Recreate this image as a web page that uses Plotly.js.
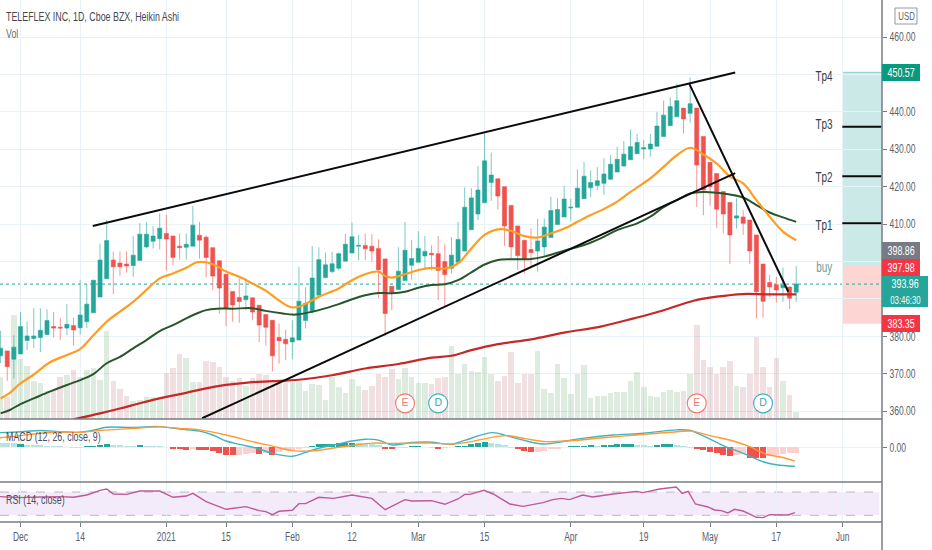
<!DOCTYPE html>
<html>
<head>
<meta charset="utf-8">
<script src="https://cdn.plot.ly/plotly-3.0.1.min.js"></script>
<style>html,body{margin:0;padding:0;background:#fff}#c{width:932px;height:550px}</style>
</head>
<body>
<div id="c"></div>
<script>
var firstBar = -3;
var candleOpen = [374.8,376.1,373.9,375.3,378.9,379.4,379.7,380.5,382.6,382.4,382.2,382.9,382.3,383.9,386.3,390.5,395.4,400.4,399.6,399.3,398.9,400.3,403.9,405.4,406.1,407.5,406.8,404.1,403.8,404.1,407,406.5,403.7,400.2,396.6,392,390.4,389.8,390.3,388.3,385.8,384.3,379.7,379.2,378.5,379,384.2,386.6,391,395.7,397.3,398.2,400.1,402.3,404.1,404.3,404.1,403.5,400.7,393.4,392.5,394.9,399,399.8,401.5,402.2,402.1,400,398.2,399.8,402.8,408.5,412.7,415.7,421.1,422.1,420,415,409.5,405.7,403.2,402.8,403.9,406.4,409.9,411.9,414.3,414.5,416.8,419.7,420.3,420.9,422,423.9,425.5,427.2,428.8,430.1,430.1,430.8,433.4,436.3,438.7,441,439.6,441,433.4,426.5,423.5,418.7,415.8,411.6,411.9,411.1,407.1,399.3,394.4,393.8,393,393.2,391.8];
var candleHigh = [381.5,376.1,380.3,386.5,384,387.6,387.5,387.2,386.5,384.9,388.6,384.9,395,393.9,395,404.8,411.1,402.6,402.7,402.7,406.8,410.3,410.5,409.4,412.9,412.5,406.8,407.5,407.5,414.8,410.6,407,403.7,400.2,396.6,392,395.5,395.5,390.3,388.3,385.8,384.3,383.4,381.8,384.3,398.6,393.1,404.1,403.8,402.4,402.6,402.4,407.4,410.4,407.1,407.5,407.3,405.9,400.7,393.4,403.8,410.6,405.8,408.1,406.8,404.3,406.8,404.6,406.5,410.6,419.8,419.6,425.5,434.7,429.1,422.1,420,415,409.5,405.7,408.8,411.4,411.5,417.3,416.9,420.2,416.8,424.6,426.6,424.3,425.3,427.6,428.4,430.7,432.2,435.3,434.1,432.5,434.1,440,443,443.9,447.6,441,449.2,441,433.4,426.5,423.5,418.7,415.8,416.9,413.7,411.1,407.1,399.3,396.4,395.9,398.4,393.2,398.8];
var candleLow = [372.8,368.1,368.7,375.3,376.3,376.9,375.8,380.3,379.7,379,380.3,377.6,380.5,382.2,386.3,390.5,395.4,391.3,396.2,397,395.9,400.3,403.5,403.5,403.3,397.5,399,400.5,400.5,404.1,400.8,395.7,392.3,386.1,382.7,383.9,383.6,387,384.3,378.5,377.5,370.6,372.7,373.6,373.9,379,382.1,386.1,391,395.5,396.9,397.6,400.1,402.3,400.4,400.4,400,390.2,380.1,387,392.5,394.9,395.1,399.8,398.2,397.7,389.7,387.9,396.8,399.8,402.8,408.5,411.1,415.7,416.2,413.9,404.2,400.8,397.7,396.8,398.8,397.3,401.3,406.4,409.9,411.9,410.9,414.2,416.8,417.2,419.1,417.8,421.8,423.9,425.5,427.2,428.8,427.4,428,430.8,433.4,436.3,438.7,434.2,437.1,414.6,412.4,414.9,409,407.5,399.3,408.8,407.1,399.3,384.8,385,390.4,389,389.2,387.3,389.2];
var candleClose = [376.8,371.9,377.1,382.6,380.1,380.1,381.6,384.2,382.2,382.2,383.2,381.7,385.7,388.6,395,400.4,405.6,398.6,398.6,398.8,401.7,407.3,407.3,406.8,408.9,406,401.1,403.7,404.6,409.7,405.7,401.1,396.1,392.9,387.6,388.4,389.3,390.8,386.5,383,382.4,374.8,378.8,378,379.6,389.4,388.8,395.6,400.5,399.1,399.4,402.1,404.6,406.6,404.3,403.4,402.8,397.8,386.1,391.8,397.4,403,400.8,403.5,402.7,401.8,397.6,396.5,401.7,405.9,414.5,417,419.1,426.9,423.1,417.5,409.5,403.9,401.6,400.6,402.4,405.5,409.2,413.6,413.9,416.7,414.5,419.6,422.8,421.1,421.6,423.4,426,427.3,428.7,430.7,431.8,430.4,431.4,436.2,439.1,441.4,443,438.1,442.2,425.8,419.1,420,414,412.7,407.1,412.2,410.2,402.8,391.9,389.4,393.2,392.4,393.7,390.2,393.96];
var volumeValues = [127,65,312,180,160,115,107,85,85,125,132,147,127,147,152,118,263,115,90,70,55,57,67,67,67,137,153,195,183,112,112,175,171,157,125,115,122,100,122,135,133,110,110,110,110,110,85,105,102,58,125,95,79,119,100,88,98,135,125,150,119,153,127,109,109,105,122,125,220,135,165,145,141,187,135,113,128,200,107,135,135,203,90,77,165,123,75,135,163,62,70,70,77,80,82,115,140,97,70,67,82,88,80,85,135,282,178,157,135,157,175,100,95,135,247,157,95,183,115,73,20];
var ma20Bars = [-3,-1.6,0,2,4.4,7,9,11,13,15,17,19,21,23,25,26.6,28,29.6,31,33,35,37,38.6,40.6,42,45,48,50,52,54,55,56,58,60,62,64,66,68,70,72,74,76,78,80,82,84,86,87.5,90,92,95,97,99,101,103,105,107,109,111,113,115,117];
var ma20Values = [363.4,364.9,367.4,369.8,373,375,376.6,380.3,383.9,386.6,389.2,392.4,395.5,396.8,398.3,399.8,399.8,398.8,397.3,395.9,394.1,392.2,390.1,387.9,387.9,390.6,392.8,395,396.6,397.3,396.1,395.7,396.6,397.7,398.3,398.1,399.5,403.5,407.1,408.6,408.2,406.8,406.4,407.5,408.8,410.6,412.4,413.6,416,418.6,422.2,425.3,428.4,430.4,428.6,426.2,422.7,420.9,416.4,412,408,405.7];
var ma50Bars = [-3,-1.6,0,2,4.4,7,9,11,13,15,17,19,21,23,25,26.6,28,29.6,32,35,37,39.6,41,42,45,48,50,52,54,56,58,60,62,64,66,68,70,72,74,77,79,82,85,87.5,90,93,95,97,99,101,103,105,107,109,111,113,115,117];
var ma50Values = [359.4,360.3,361.9,363.4,365.2,367,368.3,369.9,372.8,374.5,376.8,379,381.4,383,384.8,386.1,387,387.4,387.4,387.5,386.8,386.1,385.8,385.9,387,388.6,389.9,391,391.6,391.5,391.9,393,393.7,393.9,395,397.1,399.2,400.4,400.6,400.7,401.3,402.9,404.4,406.2,408.4,410.2,412,414.5,416.4,418.2,418.6,418.4,417.9,417.1,415.1,413.1,411.8,410.6];
var ma200Bars = [8,12,15,18,22,25,28,31,34.6,38,42,47,52,57,62,65,68,72,77,82,87.5,92.5,96.5,101.5,105,109,112.7,117];
var ma200Values = [357.8,359.4,360.7,362.1,363.8,364.9,366.1,367,367.7,368,368.4,369.6,371.4,372.6,374.3,374.8,376.3,377.9,379.2,381,382.6,384.8,386.7,389.5,390.6,391.3,391.2,391.2];
var macdBars = [-3.1,0,3,6,9,11,13,17,21,24,27,29,31,33,35.6,38,41,43,45,47.7,50,52,54,56,59,62,65,67,69.8,71.3,73.3,75.8,78.8,82.3,84.8,89.4,93.9,98.9,100.9,102.9,106,109,112,114,116.8];
var macdValues = [4.9,5.2,5.6,5.2,5,5.7,6.7,6.6,6.9,6.1,5.4,4.1,2.1,1,-0.3,-2,-3,-1.7,-0.3,1,2.1,2.7,2.4,0.8,1.6,1.7,1,2.3,4.3,4.9,3.9,2.4,1.1,2.1,3,4.1,4.7,5.8,5.7,3.9,0.6,-2,-4.8,-5.8,-6.3];
var signalBars = [-3.1,0,3,6,9,12,17,21,24,27,31,35,38,41,44,47,50,53,56,59,62,65,68,70.3,73.3,76.3,79.3,82.8,87.9,92.9,97.9,101.2,104,107.5,110,112.5,115,116.8];
var signalValues = [3.2,3.9,4.7,5.1,5,5.6,6.3,6.8,6.3,5.8,4.1,1.9,0.4,-1.1,-1.2,-0.3,0.6,1.4,1.3,1.4,1.4,1.1,1.9,3,3.9,2.8,1.9,2.2,3.2,4.1,5,5.4,3.9,2.1,0.2,-2.3,-3.4,-4.6];
var histValues = [1.4,1.4,1.3,1.2,0.9,0.9,0.7,0.5,0.3,0.3,0.2,-0.3,-0.2,0.3,0.5,0.8,1.2,0.9,0.7,0.5,0.5,0.7,0.6,0.5,0.3,0.1,-0.5,-0.5,-0.9,-0.5,-0.8,-0.8,-1.2,-1.8,-2.4,-2.7,-2.5,-2.2,-2,-2.3,-2,-2.7,-1.5,-1,-0.8,-0.6,-0.3,0.3,1,1.2,1.2,1.3,1.4,1.5,1.3,1.2,1,0.7,-0.4,-0.4,-0.2,-0.2,0.3,0.3,0.2,-0.3,-0.4,-0.3,0.1,0.4,0.5,1,1.3,1.8,1.6,1.2,0.7,-0.1,-0.7,-1.2,-1.7,-1.4,-1.2,-0.7,-0.4,0.1,0.3,0.4,0.6,0.7,0.5,0.8,0.9,1.1,1.1,1.1,0.9,0.7,0.6,0.8,1,1,0.7,0.6,-0.1,-0.5,-1,-1.7,-2,-2.5,-2.8,-2.5,-2.2,-3.5,-3.6,-3.6,-2.8,-2.5,-2.3,-2,-1.8];
var histStrong = [0,0,0,1,0,0,0,0,0,0,0,0,0,1,1,1,1,0,0,0,0,1,0,0,0,0,1,1,1,0,1,1,1,1,1,1,0,0,0,1,0,1,0,0,0,0,0,1,1,1,1,1,1,1,0,0,0,0,1,1,0,0,1,1,0,0,1,0,0,1,1,1,1,1,0,0,0,0,1,1,1,0,0,0,0,1,1,1,1,1,0,1,1,1,1,1,0,0,0,1,1,1,0,0,0,1,1,1,1,1,1,0,0,1,1,1,0,0,0,0,0];
var rsiBars = [-3.1,0,3,6,8,10,12,13,14,16,18,21,23,25,26,28,31,34,36,37,38,39,41,42,43,45,47.2,50,53,55,58,59,62,64,66,67,67.8,69.9,71.3,73.8,75.8,78.8,80.3,81.6,82.8,84.8,86.3,89.4,92.9,93.9,96.4,98.9,99.8,100.7,101.8,103.7,104.7,105.7,106.7,107.7,109,111,112,113,115.8,116.8];
var rsiValues = [62,60.3,61.4,62,60.9,64.9,72.9,75.1,66.6,66,71.7,71.7,60.9,63.1,67.7,53.4,40.3,44.9,38,36.3,31.2,36.9,38.6,50,50,60.9,59.1,64.9,59.1,39.7,56.9,54.6,55.1,48.9,58,66,66,72.9,66.6,49.4,45.4,51.7,56.9,59.1,56.9,64.9,61.4,66.6,71.1,68.9,75.1,78.6,67.7,71.1,49.4,44.3,39.1,38,34,40.3,37.4,26.6,26,31.2,30.6,34.6];
var upperTrendBars = [10.9,107.8], upperTrendPrices = [409.5,450.5];
var lowerTrendBars = [27.4,107.8], lowerTrendPrices = [358.1,423.6];
var downTrendBars = [100.9,115.8], downTrendPrices = [447.4,391.9];
var tpLabels = ['Tp1','Tp2','Tp3','Tp4'];
var tpPrices = [410.2,422.8,436,450.57];
var entryPrice = 398.86, stopPrice = 383.35, lastPrice = 393.96;
var eventLabels = ['E','D','E','D'];
var eventBars = [58,63,102,112];
var tickBars = [0,9,22,31,41,50,60,70,83,94,104,114,124];
var tickLabels = ['Dec','14','2021','15','Feb','12','Mar','15','Apr','19','May','17','Jun'];
var priceTicks = [360,370,380,390,400,410,420,430,440,450,460];
var priceTickLabels = ['360.00','370.00','380.00','','','410.00','420.00','430.00','440.00','','460.00'];

var W = 932, H = 550, AX = 882;
var FONT = '"Liberation Sans",Arial,sans-serif';
var bars = candleOpen.map(function(_, i){ return firstBar + i; });
var UP = '#26a69a', DOWN = '#ef5350', GRID = '#e9f2f6', EDGE = '#787b86', TXT = '#555963';
var XMIN = -3.09, XMAX = 129.94, TPX0 = 123.95;
function fy(px){ return 1 - px / H; }
function fx(px){ return px / W; }

var traces = [
  {type:'bar', x:bars, y:volumeValues, xaxis:'x', yaxis:'y', width:0.84,
   marker:{color:candleClose.map(function(c,i){ return c >= candleOpen[i] ? 'rgba(70,150,85,0.18)' : 'rgba(170,70,85,0.17)'; }), line:{width:0}}, hoverinfo:'skip'},
  {type:'candlestick', x:bars, open:candleOpen, high:candleHigh, low:candleLow, close:candleClose, xaxis:'x', yaxis:'y2', whiskerwidth:0,
   increasing:{line:{color:'rgba(38,166,154,0.6)',width:1}, fillcolor:UP},
   decreasing:{line:{color:'rgba(239,83,80,0.6)',width:1}, fillcolor:DOWN}, hoverinfo:'skip'},
  {type:'scatter', mode:'lines', x:ma200Bars, y:ma200Values, xaxis:'x', yaxis:'y2', line:{color:'#c62828',width:2.2,shape:'spline'}, hoverinfo:'skip'},
  {type:'scatter', mode:'lines', x:ma50Bars, y:ma50Values, xaxis:'x', yaxis:'y2', line:{color:'#27562d',width:2,shape:'spline'}, hoverinfo:'skip'},
  {type:'scatter', mode:'lines', x:ma20Bars, y:ma20Values, xaxis:'x', yaxis:'y2', line:{color:'#ff9d23',width:2.2,shape:'spline'}, hoverinfo:'skip'},
  {type:'scatter', mode:'lines', x:upperTrendBars, y:upperTrendPrices, xaxis:'x', yaxis:'y2', line:{color:'#0b0b0b',width:2}, hoverinfo:'skip'},
  {type:'scatter', mode:'lines', x:lowerTrendBars, y:lowerTrendPrices, xaxis:'x', yaxis:'y2', line:{color:'#0b0b0b',width:2}, hoverinfo:'skip'},
  {type:'scatter', mode:'lines', x:downTrendBars, y:downTrendPrices, xaxis:'x', yaxis:'y2', line:{color:'#0b0b0b',width:2}, hoverinfo:'skip'},
  {type:'scatter', mode:'markers+text', x:eventBars, y:eventBars.map(function(){ return 362.1; }), text:eventLabels, textposition:'middle center', xaxis:'x', yaxis:'y2',
   textfont:{family:FONT,size:10.5,color:['#ef7a76','#3aa9b2','#ef7a76','#3aa9b2']},
   marker:{size:19,color:'#ffffff',line:{width:1.2,color:['#ef7a76','#45b3bb','#ef7a76','#45b3bb']}}, hoverinfo:'skip'},
  {type:'bar', x:bars, y:histValues, xaxis:'x', yaxis:'y3', width:0.92,
   marker:{color:histValues.map(function(v,i){ return v >= 0 ? (histStrong[i] ? '#26a69a' : '#b8e2de') : (histStrong[i] ? '#ef5350' : '#fdd0d0'); }), line:{width:0}}, hoverinfo:'skip'},
  {type:'scatter', mode:'lines', x:macdBars, y:macdValues, xaxis:'x', yaxis:'y3', line:{color:'#3fb4bd',width:1.4,shape:'spline'}, hoverinfo:'skip'},
  {type:'scatter', mode:'lines', x:signalBars, y:signalValues, xaxis:'x', yaxis:'y3', line:{color:'#ff9a35',width:1.4,shape:'spline'}, hoverinfo:'skip'},
  {type:'scatter', mode:'lines', x:rsiBars, y:rsiValues, xaxis:'x', yaxis:'y4', line:{color:'#bd5a97',width:1.4}, hoverinfo:'skip'}
];
[0,1,2].forEach(function(k){
  traces.push({type:'scatter', mode:'lines', x:[TPX0,XMAX-0.1], y:[tpPrices[k],tpPrices[k]], xaxis:'x', yaxis:'y2', line:{color:'#0b0b0b',width:2}, hoverinfo:'skip'});
});

var shapes = [
  {type:'rect', xref:'x', yref:'y2', x0:TPX0, x1:XMAX, y0:entryPrice, y1:tpPrices[3], fillcolor:'rgba(38,166,154,0.24)', line:{width:0}, layer:'below'},
  {type:'line', xref:'x', yref:'y2', x0:TPX0, x1:XMAX, y0:tpPrices[3], y1:tpPrices[3], line:{color:'rgba(38,166,154,0.45)',width:1}, layer:'below'},
  {type:'rect', xref:'x', yref:'y2', x0:TPX0, x1:XMAX, y0:stopPrice, y1:entryPrice, fillcolor:'rgba(244,67,54,0.22)', line:{width:0}, layer:'below'},
  {type:'line', xref:'x', yref:'y2', x0:XMIN, x1:XMAX, y0:lastPrice, y1:lastPrice, line:{color:'#26a69a',width:1,dash:'dot'}, layer:'below'},
  {type:'rect', xref:'x', yref:'y4', x0:XMIN, x1:XMAX-0.4, y0:30, y1:70, fillcolor:'rgba(149,60,210,0.10)', line:{width:0}, layer:'below'},
  {type:'line', xref:'x', yref:'y4', x0:XMIN, x1:XMAX, y0:70, y1:70, line:{color:'#b9b6bd',width:1,dash:'dash'}, layer:'below'},
  {type:'line', xref:'x', yref:'y4', x0:XMIN, x1:XMAX, y0:30, y1:30, line:{color:'#b9b6bd',width:1,dash:'dash'}, layer:'below'}
];
[419,482,522].forEach(function(py){
  shapes.push({type:'line', xref:'paper', yref:'paper', x0:0, x1:fx(AX), y0:fy(py), y1:fy(py), line:{color:EDGE,width:1.5}});
});
shapes.push({type:'line', xref:'paper', yref:'paper', x0:fx(AX), x1:fx(AX), y0:0, y1:1, line:{color:EDGE,width:1.5}});
shapes.push({type:'rect', xref:'paper', yref:'paper', x0:fx(895), x1:fx(917), y0:fy(24), y1:fy(8), line:{color:'#9598a1',width:1}, fillcolor:'#ffffff'});

function note(text, px, py, color, size, anchor){
  return {text:text, xref:'paper', yref:'paper', x:fx(px), y:fy(py), showarrow:false, xanchor:anchor||'left', yanchor:'middle',
    font:{family:FONT,size:size||12,color:color||TXT}, borderpad:0, borderwidth:0};
}
var annotations = [
  note('TELEFLEX INC, 1D, Cboe BZX, Heikin Ashi', 6, 17, '#44474f', 12.5),
  note('Vol', 6, 34, '#6a6d78', 12.5),
  note('MACD (12, 26, close, 9)', 6, 437, '#4a4e59', 12.5),
  note('RSI (14, close)', 6, 500, '#4a4e59', 12.5),
  note('USD', 906, 16, '#5d606b', 11, 'center'),
  note('Tp4', 824, 76, '#3a3e49', 14, 'center'),
  note('Tp3', 824, 124, '#3a3e49', 14, 'center'),
  note('Tp2', 824, 177, '#3a3e49', 14, 'center'),
  note('Tp1', 824, 225, '#3a3e49', 14, 'center'),
  note('buy', 824, 267, '#6f9c94', 14, 'center')
];
function priceBox(text, top, bottom, color, width){
  var w = width || 38;
  shapes.push({type:'rect', xref:'paper', yref:'paper', x0:fx(AX), x1:fx(AX + w), y0:fy(bottom), y1:fy(top), fillcolor:color, line:{width:0}});
  annotations.push(note(text, AX + w / 2, (top + bottom) / 2, '#ffffff', 12.5, 'center'));
}
priceBox('450.57', 64, 81, '#089981');
priceBox('398.86', 242, 259, '#787b86');
priceBox('397.98', 259, 276, '#f23645');
priceBox('393.96', 276, 292, '#26a69a', 46);
priceBox('03:46:30', 292, 307, '#26a69a', 46);
annotations[annotations.length - 1].font.size = 11;
priceBox('383.35', 315, 332, '#f23645');

var tickFont = {family:FONT,size:12,color:'#5d606b'};
var layout = {
  width:W, height:H, margin:{l:0,r:0,t:0,b:0}, paper_bgcolor:'#ffffff', plot_bgcolor:'#ffffff',
  showlegend:false, dragmode:false, bargap:0, barmode:'overlay', boxgap:0.12,
  xaxis:{domain:[0,fx(AX)], range:[XMIN,XMAX], anchor:'y4', tickmode:'array', tickvals:tickBars, ticktext:tickLabels,
    showgrid:true, gridcolor:GRID, gridwidth:1, zeroline:false, showline:false, ticks:'outside', ticklen:4, tickcolor:EDGE, tickfont:tickFont, rangeslider:{visible:false}},
  yaxis:{domain:[fy(419),1], range:[0,1257], showgrid:false, zeroline:false, showticklabels:false, ticks:'', showline:false, fixedrange:true},
  yaxis2:{domain:[fy(419),1], range:[357.9,469.9], overlaying:'y', side:'right', anchor:'x', tickmode:'array', tickvals:priceTicks, ticktext:priceTickLabels,
    showgrid:true, gridcolor:GRID, gridwidth:1, zeroline:false, ticks:'outside', ticklen:4, tickcolor:EDGE, tickfont:tickFont, showline:false},
  yaxis3:{domain:[fy(482),fy(419)], range:[-11.56,9.44], side:'right', anchor:'x', tickmode:'array', tickvals:[0], ticktext:['0.00'],
    showgrid:true, gridcolor:GRID, zeroline:false, ticks:'outside', ticklen:4, tickcolor:EDGE, tickfont:tickFont, showline:false},
  yaxis4:{domain:[fy(522),fy(482)], range:[18.5,87.2], side:'right', anchor:'x', showgrid:false, zeroline:false, showticklabels:false, ticks:'', showline:false},
  shapes:shapes, annotations:annotations
};
var NARROW = 0.71;
Plotly.newPlot('c', traces, layout, {displayModeBar:false, staticPlot:true}).then(function(gd){
  var leftNotes = ['TELEFLEX','Vol','MACD','RSI'];
  var nodes = gd.querySelectorAll('.annotation-text, .xtick text, .y2tick text, .y3tick text');
  nodes.forEach(function(n){
    var len = n.getComputedTextLength();
    if (!len) return;
    n.setAttribute('textLength', (len * NARROW).toFixed(1));
    n.setAttribute('lengthAdjust', 'spacingAndGlyphs');
    var isLeft = n.classList.contains('annotation-text') && leftNotes.some(function(p){ return n.textContent.indexOf(p) === 0; });
    if (isLeft) n.setAttribute('transform', 'translate(' + (-len * (1 - NARROW) / 2).toFixed(1) + ',0)');
  });
});
</script>
</body>
</html>
